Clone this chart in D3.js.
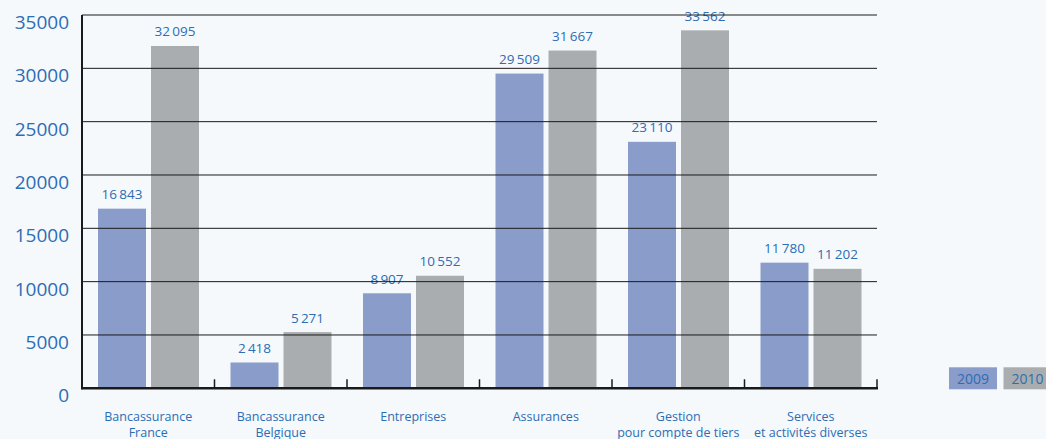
<!DOCTYPE html>
<html><head><meta charset="utf-8">
<script src="https://cdn.jsdelivr.net/npm/d3@7"></script>
<style>
html,body{margin:0;padding:0;background:#f5f9fc;}
svg{display:block;font-family:"Open Sans","Noto Sans",sans-serif;}
</style></head>
<body><svg id="c" width="1046" height="439"></svg>
<script>
const categories = [["Bancassurance","France"],["Bancassurance","Belgique"],["Entreprises"],["Assurances"],["Gestion","pour compte de tiers"],["Services","et activités diverses"]];
const series2009 = [16843, 2418, 8907, 29509, 23110, 11780];
const series2010 = [32095, 5271, 10552, 31667, 33562, 11202];
const seriesNames = ["2009","2010"];
const yTicks = [0,5000,10000,15000,20000,25000,30000,35000];

(function(){
const colors = ["#8a9cca","#a9adaf"];
const textColor = "#2d6db3";
const svg = d3.select("#c");
const pL = 82, pR = 877, pT = 15, pB = 388.3;
const x = d3.scaleBand().domain(d3.range(categories.length)).range([pL, pR]).paddingInner(0).paddingOuter(0);
const y = d3.scaleLinear().domain([0,35000]).range([pB, pT]);
const fmt = v => d3.format(",")(v).replace(/,/g, "\u2009");

const data = categories.map((c,i)=>({i, vals:[series2009[i], series2010[i]]}));
const barW = 48, gap = 5, off = 16;
const g = svg.append("g");
data.forEach(d=>{
  d.vals.forEach((v,s)=>{
    const bx = x(d.i) + off + s*(barW+gap);
    g.append("rect").attr("x", bx).attr("y", y(v)).attr("width", barW).attr("height", y(0)-y(v)).attr("fill", colors[s]);
    g.append("text").attr("x", bx + barW/2).attr("y", y(v) - 9.5).attr("text-anchor","middle")
      .attr("font-size", 13.5).attr("fill", textColor).text(fmt(v));
  });
});

svg.append("g").selectAll("line").data(yTicks.filter(t=>t>0)).join("line")
  .attr("x1", pL).attr("x2", pR).attr("y1", d=>y(d)).attr("y2", d=>y(d))
  .attr("stroke","#1a1a1a").attr("stroke-width",1);

svg.append("line").attr("x1",pL).attr("x2",pL).attr("y1",pT).attr("y2",pB+1).attr("stroke","#1a1a1a").attr("stroke-width",2);
svg.append("line").attr("x1",pL-1).attr("x2",pR+1).attr("y1",pB).attr("y2",pB).attr("stroke","#1a1a1a").attr("stroke-width",2.5);
svg.append("g").selectAll("line").data(d3.range(1, categories.length+1)).join("line")
  .attr("x1", d=> d===categories.length ? pR : x(d)).attr("x2", d=> d===categories.length ? pR : x(d))
  .attr("y1", pB).attr("y2", pB-9).attr("stroke","#1a1a1a").attr("stroke-width",1.5);

svg.append("g").selectAll("text").data(yTicks).join("text")
  .attr("x", 69).attr("y", d=>y(d)+14).attr("text-anchor","end")
  .attr("font-size", 19).attr("fill", textColor).text(d=>d);

const cl = svg.append("g").selectAll("text").data(categories).join("text")
  .attr("text-anchor","middle").attr("font-size",12.5).attr("fill",textColor)
  .attr("transform",(d,i)=>`translate(${x(i)+x.bandwidth()/2},421)`);
cl.each(function(d){
  d3.select(this).selectAll("tspan").data(d).join("tspan").attr("x",0).attr("dy",(t,k)=>k?15.5:0).text(t=>t);
});

const lg = svg.append("g");
seriesNames.forEach((n,i)=>{
  const lx = 949 + i*54.5;
  lg.append("rect").attr("x",lx).attr("y",367.3).attr("width",48).attr("height",22).attr("fill",colors[i]);
  lg.append("text").attr("x",lx+24).attr("y",383.5).attr("text-anchor","middle").attr("font-size",14).attr("fill",textColor).text(n);
});
})();
</script></body></html>
